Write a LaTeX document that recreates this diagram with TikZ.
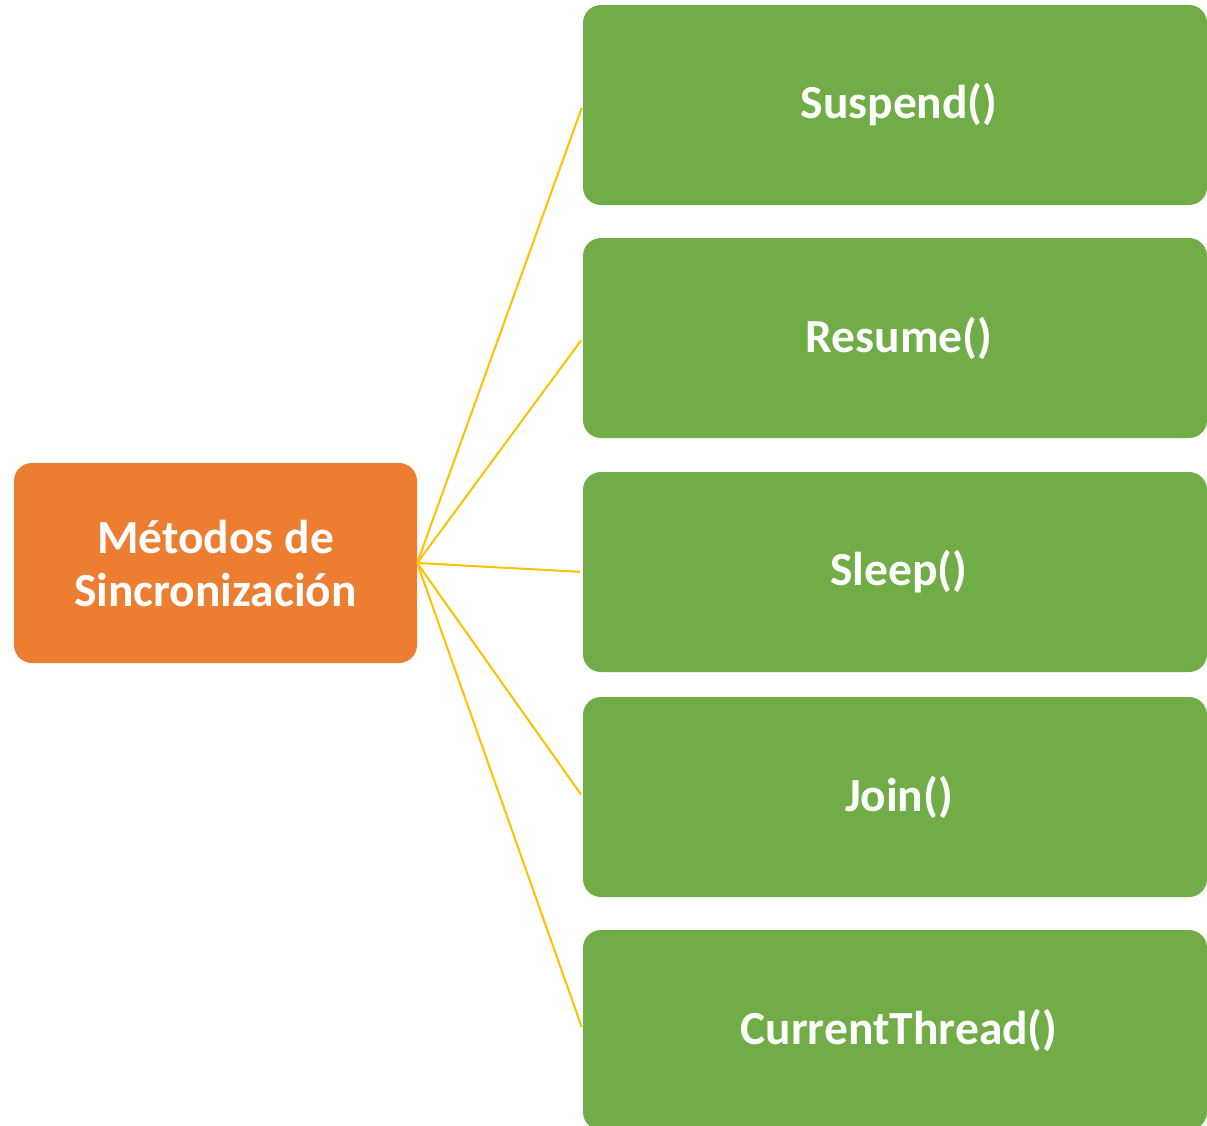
\documentclass[tikz,border=0pt]{standalone}
\usepackage{fontspec}
\setmainfont{Carlito}
\usepackage{tikz}
\usetikzlibrary{positioning}
\definecolor{naranja}{HTML}{ED7D31}
\definecolor{verde}{HTML}{70AD47}
\definecolor{amarillo}{HTML}{FFC000}
\begin{document}
\begin{tikzpicture}[%
	x=1pt, y=-1pt,
	shorten >=3pt,
	align=center,
	raiz/.style={fill=naranja, rounded corners=18pt, minimum width=403pt, minimum height=200pt, text=white, font=\fontsize{47.5}{53}\selectfont\bfseries},
	metodo/.style={fill=verde, rounded corners=18pt, minimum width=624pt, minimum height=200pt, text=white, font=\fontsize{47.5}{53}\selectfont\bfseries},
	texto/.style={text=white, font=\fontsize{47.5}{53}\selectfont\bfseries},
	rama/.style={draw=amarillo, line width=2pt}
	]
	\clip (0,0) rectangle (1207,1125);
	\node[raiz](m) at (215.5,563) {Métodos de\\Sincronización};
	
	\node[metodo] (1) at (895,105) {};
	\node[metodo] (2) at (895,338) {};
	\node[metodo] (3) at (895,572) {};
	\node[metodo] (4) at (895,797) {};
	\node[metodo] (5) at (895,1030) {};
	
	% etiquetas un poco a la derecha del centro
	\node[texto] (t1) [right=-1pt of 1.center, anchor=center, xshift=5pt] {Suspend()};
	\node[texto] (t2) [right=-1pt of 2.center, anchor=center, xshift=5pt] {Resume()};
	\node[texto] (t3) [right=-1pt of 3.center, anchor=center, xshift=5pt] {Sleep()};
	\node[texto] (t4) [right=-1pt of 4.center, anchor=center, xshift=5pt] {Join()};
	\node[texto] (t5) [right=-1pt of 5.center, anchor=center, xshift=5pt] {CurrentThread()};
	
	\path[rama] (m.east) edge (1.west)
	(m.east) edge (2.west)
	(m.east) edge (3.west)
	(m.east) edge (4.west)
	(m.east) edge (5.west)
	;
\end{tikzpicture}
\end{document}
